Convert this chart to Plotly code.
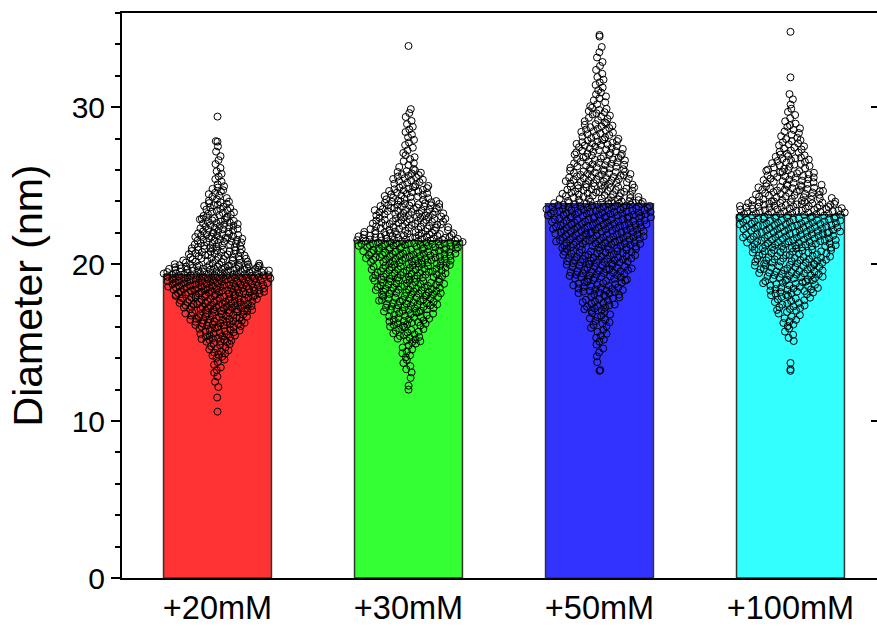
import plotly.graph_objects as go

# ---------------- data ----------------
categories = ["+20mM", "+30mM", "+50mM", "+100mM"]
bar_means = [19.33, 21.49, 23.84, 23.14]
bar_colors = ["#FF3333", "#33FF33", "#3333FF", "#33FFFF"]

# Histogram counts of measured diameters, 1-nm bins; bin k covers [start+k, start+k+1)
g1_start = 11
g1_counts = [1, 3, 6, 15, 28, 45, 60, 80, 90, 45, 38, 30, 22, 12, 6, 4, 3]
g1_extra = [10.6, 27.8, 29.4]

g2_start = 12
g2_counts = [2, 5, 8, 18, 28, 38, 45, 50, 60, 75, 50, 45, 28, 20, 8, 6, 6, 4]
g2_extra = [12.0, 33.9]

g3_start = 13
g3_counts = [2, 4, 8, 12, 20, 30, 38, 45, 55, 60, 70, 45, 40, 32, 28, 20, 14, 8, 6, 4, 3, 1]
g3_extra = [13.2, 34.6]

g4_start = 15
g4_counts = [5, 10, 18, 30, 38, 45, 55, 60, 65, 40, 30, 22, 15, 10, 5, 3]
g4_extra = [13.2, 13.3, 13.7, 31.9, 34.8]

groups = [
    (g1_start, g1_counts, g1_extra),
    (g2_start, g2_counts, g2_extra),
    (g3_start, g3_counts, g3_extra),
    (g4_start, g4_counts, g4_extra),
]

y_ticks = [0, 10, 20, 30]

# ---------------- placement of the points (deterministic swarm) ----------------
HALF_WIDTH = 0.29  # max horizontal spread in category units


def radical_inverse(n, base):
    inv, f = 0.0, 1.0 / base
    while n > 0:
        inv += f * (n % base)
        n //= base
        f /= base
    return inv


def density_at(y, start, counts):
    centers = [start + k + 0.5 for k in range(len(counts))]
    if y <= centers[0]:
        return counts[0] * max(0.0, 1 - (centers[0] - y))
    if y >= centers[-1]:
        return counts[-1] * max(0.0, 1 - (y - centers[-1]))
    for k in range(len(centers) - 1):
        if centers[k] <= y <= centers[k + 1]:
            t = y - centers[k]
            return counts[k] * (1 - t) + counts[k + 1] * t
    return 0.0


xs, ys = [], []
for gi, (start, counts, extra) in enumerate(groups):
    dmax = max(counts)
    pts = []
    for k, n in enumerate(counts):
        for i in range(n):
            v = start + k + (i + 0.5) / n
            u = 2 * ((radical_inverse(i + 1, 3) + 0.37 * k + 0.21 * gi) % 1.0) - 1
            pts.append((v, u))
    for e in extra:
        pts.append((e, 0.0))
    for v, u in pts:
        d = density_at(v, start, counts)
        hw = HALF_WIDTH * (d / dmax) ** 0.9
        xs.append(gi + hw * u)
        ys.append(v)

fig = go.Figure()

fig.add_trace(go.Bar(
    x=list(range(len(categories))),
    y=bar_means,
    width=0.565,
    marker=dict(color=bar_colors, line=dict(color="#333333", width=1.5)),
    showlegend=False,
    hoverinfo="skip",
))

fig.add_trace(go.Scatter(
    x=xs, y=ys, mode="markers",
    marker=dict(symbol="circle", size=7, color="rgba(0,0,0,0)",
                line=dict(color="black", width=1)),
    showlegend=False,
))

# invisible trace on the right axis, for its inward ticks
fig.add_trace(go.Scatter(x=[0], y=[0], yaxis="y2", mode="markers",
                         marker=dict(opacity=0), showlegend=False, hoverinfo="skip"))

FONT = "Liberation Sans, Arial, sans-serif"

fig.update_layout(
    width=877, height=626,
    margin=dict(l=122, r=0, t=13, b=46),
    plot_bgcolor="white", paper_bgcolor="white",
    font=dict(family=FONT, color="black", size=30),
    xaxis=dict(
        range=[-0.5, 3.453],
        tickmode="array",
        tickvals=list(range(len(categories))),
        ticktext=categories,
        ticks="",
        showgrid=False, zeroline=False,
        showline=True, linecolor="black", linewidth=2, mirror=True,
        tickfont=dict(size=32.5),
    ),
    yaxis=dict(
        range=[0, 36],
        tickmode="array",
        tickvals=y_ticks,
        ticks="outside", ticklen=9, tickwidth=2, tickcolor="black",
        minor=dict(dtick=2, ticks="outside", ticklen=5, tickwidth=2, tickcolor="black"),
        showgrid=False, zeroline=False,
        showline=True, linecolor="black", linewidth=2,
        tickfont=dict(size=30),
        title=dict(text="Diameter (nm)", font=dict(size=41), standoff=16),
    ),
    yaxis2=dict(
        range=[0, 36], overlaying="y", side="right",
        tickmode="array", tickvals=y_ticks,
        ticks="inside", ticklen=6, tickwidth=2, tickcolor="black",
        showticklabels=False, showgrid=False, zeroline=False, showline=False,
    ),
)

fig.write_html("out.html")
